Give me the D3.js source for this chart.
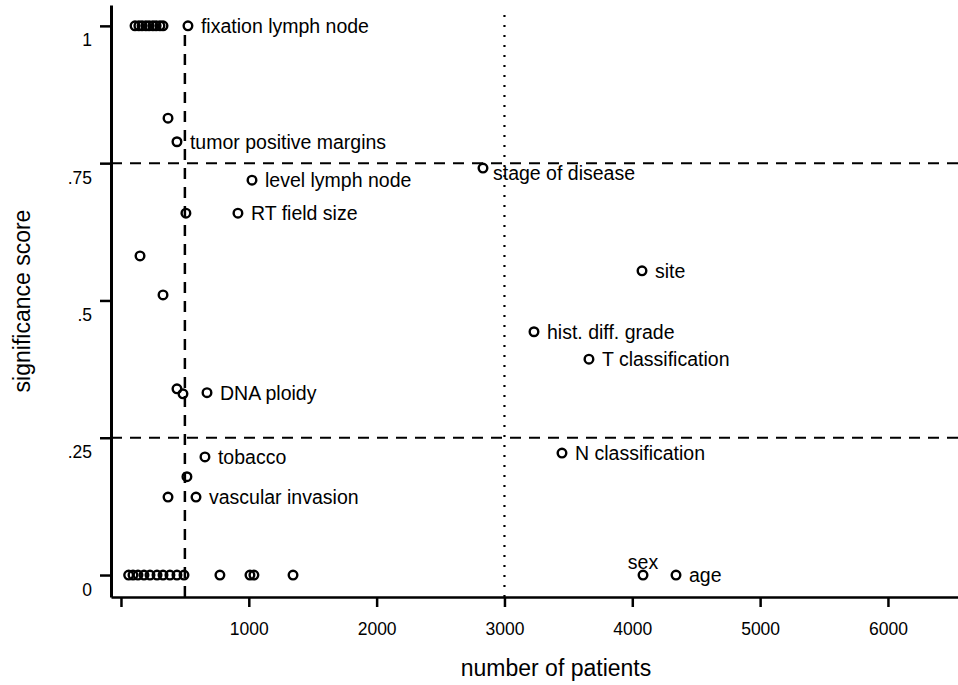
<!DOCTYPE html>
<html>
<head>
<meta charset="utf-8">
<script src="https://cdn.jsdelivr.net/npm/d3@7"></script>
<style>
  body { margin: 0; background: #fff; }
  svg { display: block; font-family: "Liberation Sans", Arial, Helvetica, sans-serif; }
  .axis path, .axis line { stroke: #000; }
  .axis text { fill: #000; font-size: 17.5px; }
  .pt { fill: none; stroke: #000; stroke-width: 2.4; }
  .lbl { font-size: 19.5px; fill: #000; }
</style>
</head>
<body>
<div id="chart"></div>
<script>
// data: number of patients vs significance score
const pointLabels = [
  "", "", "", "", "", "", "", "", "", "fixation lymph node",
  "", "tumor positive margins", "stage of disease", "level lymph node",
  "", "RT field size", "", "site", "", "hist. diff. grade", "T classification",
  "", "", "DNA ploidy", "tobacco", "N classification", "", "", "vascular invasion",
  "", "", "", "", "", "", "", "", "", "",
  "", "", "", "", "sex", "age"
];
const patients = [
  110, 140, 165, 195, 220, 250, 275, 305, 329, 524,
  368, 438, 2832, 1025,
  508, 915, 149, 4076, 329, 3231, 3661,
  438, 485, 673, 657, 3450, 516, 368, 587,
  60, 94, 133, 180, 227, 282, 329, 383, 438, 493,
  774, 1009, 1040, 1346, 4084, 4342
];
const scores = [
  1, 1, 1, 1, 1, 1, 1, 1, 1, 1,
  0.832, 0.789, 0.741, 0.719,
  0.659, 0.659, 0.581, 0.554, 0.510, 0.443, 0.393,
  0.339, 0.330, 0.332, 0.215, 0.222, 0.179, 0.142, 0.142,
  0, 0, 0, 0, 0, 0, 0, 0, 0, 0,
  0, 0, 0, 0, 0, 0
];
const xTicks = [0, 1000, 2000, 3000, 4000, 5000, 6000];
const xTickLabels = ["", "1000", "2000", "3000", "4000", "5000", "6000"];
const yTicks = [0, 0.25, 0.5, 0.75, 1];
const yTickLabels = ["0", ".25", ".5", ".75", "1"];
const cutPatients = [500];       // dashed vertical
const cutPatientsDotted = [3000]; // dotted vertical
const cutScores = [0.25, 0.75];  // dashed horizontal

const width = 958, height = 685;
const plotLeft = 111, plotRight = 958, plotTop = 5, plotBottom = 597;

const svg = d3.select("#chart").append("svg")
  .attr("width", width)
  .attr("height", height);

const x = d3.scaleLinear().domain([-78, 6548]).range([plotLeft, plotRight]);
const y = d3.scaleLinear().domain([-0.04, 1.038]).range([plotBottom, plotTop]);

// reference lines
svg.append("g").selectAll("line")
  .data(cutScores)
  .join("line")
  .attr("x1", plotLeft).attr("x2", plotRight)
  .attr("y1", d => y(d)).attr("y2", d => y(d))
  .attr("stroke", "#000").attr("stroke-width", 2)
  .attr("stroke-dasharray", "11,8");

svg.append("g").selectAll("line")
  .data(cutPatients)
  .join("line")
  .attr("x1", d => x(d)).attr("x2", d => x(d))
  .attr("y1", plotTop + 30).attr("y2", plotBottom)
  .attr("stroke", "#000").attr("stroke-width", 2.5)
  .attr("stroke-dasharray", "11,8");

svg.append("g").selectAll("line")
  .data(cutPatientsDotted)
  .join("line")
  .attr("x1", d => x(d)).attr("x2", d => x(d))
  .attr("y1", plotTop + 10).attr("y2", plotBottom)
  .attr("stroke", "#000").attr("stroke-width", 2.2)
  .attr("stroke-dasharray", "2,8");

// axes
const xAxis = d3.axisBottom(x)
  .tickValues(xTicks)
  .tickFormat((d, i) => xTickLabels[i])
  .tickSizeInner(10)
  .tickSizeOuter(0);

svg.append("g")
  .attr("class", "x axis")
  .attr("transform", `translate(0, ${plotBottom})`)
  .call(xAxis)
  .call(g => g.select(".domain").attr("stroke-width", 2.5))
  .call(g => g.selectAll(".tick line").attr("stroke-width", 2.5))
  .call(g => g.selectAll("text").attr("dy", "1.4em"));

const yAxis = d3.axisLeft(y)
  .tickValues(yTicks)
  .tickFormat((d, i) => yTickLabels[i])
  .tickSizeInner(11)
  .tickSizeOuter(0);

svg.append("g")
  .attr("class", "y axis")
  .attr("transform", `translate(${plotLeft}, 0)`)
  .call(yAxis)
  .call(g => g.select(".domain").attr("stroke-width", 3))
  .call(g => g.selectAll(".tick line").attr("stroke-width", 2.5))
  .call(g => g.selectAll("text").attr("x", -19).attr("dy", "1.15em"));

// axis titles
svg.append("text")
  .attr("x", 556).attr("y", 676)
  .attr("text-anchor", "middle")
  .attr("font-size", 23)
  .text("number of patients");

svg.append("text")
  .attr("transform", `translate(30, 301) rotate(-90)`)
  .attr("text-anchor", "middle")
  .attr("font-size", 23)
  .text("significance score");

// points
const pts = patients.map((p, i) => ({ n: p, s: scores[i], label: pointLabels[i] }));

svg.append("g").selectAll("circle")
  .data(pts)
  .join("circle")
  .attr("class", "pt")
  .attr("cx", d => x(d.n))
  .attr("cy", d => y(d.s))
  .attr("r", 4.3);

// labels: to the right of the point, "sex" sits above it
svg.append("g").selectAll("text")
  .data(pts.filter(d => d.label))
  .join("text")
  .attr("class", "lbl")
  .attr("x", d => d.label === "sex" ? x(d.n) : x(d.n) + (d.label === "stage of disease" ? 10 : 13))
  .attr("y", d => d.label === "sex" ? y(d.s) - 13 : y(d.s))
  .attr("dy", d => d.label === "stage of disease" ? "0.6em" : "0.35em")
  .attr("text-anchor", d => d.label === "sex" ? "middle" : "start")
  .text(d => d.label);
</script>
</body>
</html>
